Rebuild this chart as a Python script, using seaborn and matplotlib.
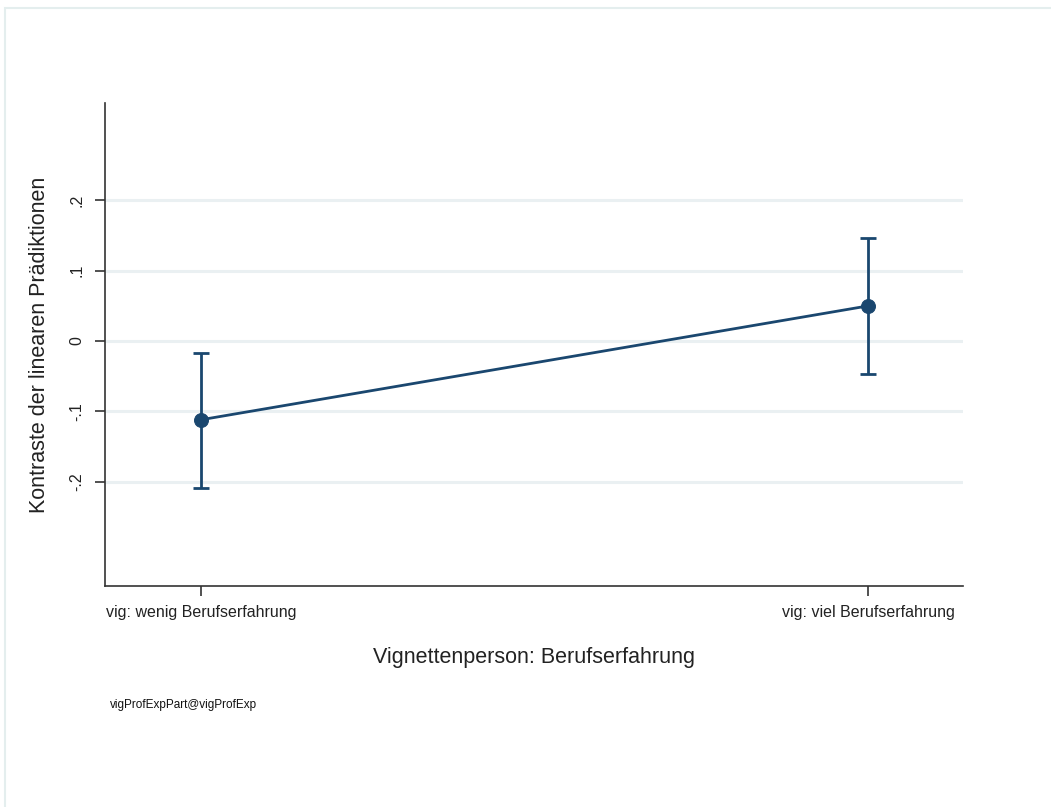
import matplotlib
matplotlib.use("Agg")
import matplotlib.pyplot as plt
import seaborn as sns
import pandas as pd
from matplotlib.patches import Rectangle

categories = ["vig: wenig Berufserfahrung", "vig: viel Berufserfahrung"]
estimates = [-0.112, 0.050]
ci_low = [-0.209, -0.047]
ci_high = [-0.017, 0.147]
ytick_vals = [-0.2, -0.1, 0.0, 0.1, 0.2]
ytick_labels = ["-.2", "-.1", "0", ".1", ".2"]

sns.set_theme(style="white")
plt.rcParams['font.family'] = ['Liberation Sans', 'DejaVu Sans']

color = "#1a476f"
df = pd.DataFrame({"pos": range(len(categories)), "cat": categories, "est": estimates,
                   "lo": ci_low, "hi": ci_high})

fig = plt.figure(figsize=(10.51, 8.07), dpi=100)
fig.patch.set_facecolor("white")
# outer frame
fig.add_artist(Rectangle((4.5/1051, -0.01), 1.1, 1 - 7.5/807 + 0.01, transform=fig.transFigure,
                         fill=False, edgecolor="#e4eeee", lw=1.5))
ax = fig.add_axes([105/1051, 1 - 586/807, (963-105)/1051, (586-103)/807])

for y in ytick_vals:
    ax.axhline(y, color="#eaf0f2", lw=2.2, zorder=0)

sns.lineplot(data=df, x="pos", y="est", ax=ax, color=color, lw=2, marker="o",
             markersize=10, markeredgecolor=color, zorder=3)
ax.errorbar(df["pos"], df["est"],
            yerr=[df["est"] - df["lo"], df["hi"] - df["est"]],
            fmt="none", ecolor=color, elinewidth=2, capsize=6, capthick=2, zorder=2)

ax.set_xlim(-0.144, 1.142)
ax.set_ylim(-0.3485, 0.3386)
ax.set_xticks(df["pos"])
ax.set_xticklabels(categories, fontsize=11.5, color="#222222")
ax.set_yticks(ytick_vals)
ax.set_yticklabels(ytick_labels, fontsize=11.5, rotation=90, va="center", color="#222222")
ax.tick_params(axis="both", which="major", length=7, width=1.2, color="#333333",
               bottom=True, left=True)
ax.tick_params(axis="x", pad=7)
ax.tick_params(axis="y", pad=8)

for s in ["top", "right"]:
    ax.spines[s].set_visible(False)
for s in ["left", "bottom"]:
    ax.spines[s].set_color("#333333")
    ax.spines[s].set_linewidth(1.2)

ax.set_xlabel("Vignettenperson: Berufserfahrung", fontsize=15.5, color="#222222", labelpad=19)
ax.set_ylabel("Kontraste der linearen Prädiktionen", fontsize=15.5, color="#222222", labelpad=14)

fig.text(110/1051, 1 - 705/807, "vigProfExpPart@vigProfExp", fontsize=8.5, color="#111111",
         va="center", ha="left")

fig.savefig("out.png", dpi=100, facecolor="white")
